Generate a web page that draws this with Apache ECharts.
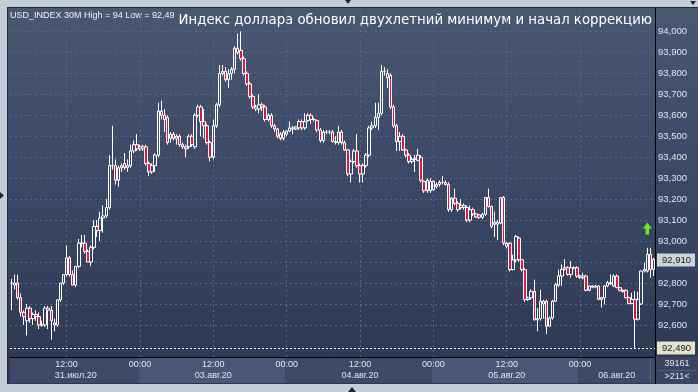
<!DOCTYPE html>
<html><head><meta charset="utf-8">
<script src="https://cdn.jsdelivr.net/npm/echarts@6/dist/echarts.min.js"></script>
<style>
html,body{margin:0;padding:0;background:#c5cdd9;overflow:hidden;}
#panel{position:absolute;left:7px;top:7px;width:691px;height:377px;background:linear-gradient(180deg,#4a5773 0%,#3a4764 50%,#2c3852 100%);border-top:1px solid #222b3b;border-left:1px solid #222b3b;box-sizing:border-box;}
#c{position:absolute;left:0;top:0;width:698px;height:392px;}
</style>
</head><body><div id="panel"></div><div id="c"></div>
<script>
// ---- data (30-minute candles, USD_INDEX) ----
const days      = ['31.июл.20','03.авг.20','04.авг.20','05.авг.20','06.авг.20'];
const dayFirst  = ['03:00','00:00','00:00','00:00','00:00'];
const dayLast   = ['23:30','23:30','23:30','23:30','12:00'];
const timeTicks = ['00:00','12:00'];
const yTicks    = [92.6,92.7,92.8,92.9,93.0,93.1,93.2,93.3,93.4,93.5,93.6,93.7,93.8,93.9,94.0];
const lowMark   = 92.49;
const lastPrice = 92.91;
const arrowValue = 93.06;

const opens = [
92.80,92.79,92.80,92.73,92.66,92.62,92.68,92.63,92.65,92.64,
92.60,92.60,92.68,92.67,92.61,92.60,92.72,92.80,92.84,92.92,
92.84,92.79,92.88,92.99,92.99,92.95,92.90,92.97,93.07,93.05,
93.11,93.12,93.16,93.36,93.36,93.29,93.35,93.37,93.35,93.36,
93.43,93.46,93.44,93.45,93.45,93.37,93.33,93.36,93.41,93.62,
93.60,93.59,93.49,93.51,93.49,93.50,93.46,93.45,93.45,93.50,
93.45,93.60,93.64,93.57,93.55,93.47,93.40,93.55,93.65,93.80,
93.81,93.77,93.80,93.82,93.92,93.91,93.87,93.80,93.75,93.69,
93.64,93.63,93.65,93.64,93.58,93.60,93.55,93.535,93.51,93.49,
93.51,93.525,93.54,93.535,93.54,93.57,93.54,93.575,93.60,93.58,
93.575,93.53,93.48,93.52,93.52,93.52,93.475,93.47,93.52,93.47,
93.435,93.32,93.38,93.43,93.36,93.32,93.36,93.41,93.54,93.55,
93.59,93.61,93.81,93.80,93.79,93.64,93.55,93.475,93.50,93.435,
93.41,93.38,93.39,93.385,93.40,93.285,93.24,93.24,93.245,93.27,
93.27,93.28,93.28,93.27,93.15,93.205,93.18,93.17,93.16,93.16,
93.10,93.15,93.13,93.125,93.113,93.128,93.208,93.165,93.08,93.09,
93.085,93.208,92.99,92.99,92.864,92.91,93.014,92.911,92.864,92.721,
92.729,92.76,92.625,92.63,92.70,92.713,92.594,92.633,92.713,92.79,
92.833,92.865,92.873,92.841,92.873,92.873,92.833,92.825,92.833,92.765,
92.786,92.78,92.786,92.722,92.73,92.786,92.795,92.786,92.833,92.778,
92.765,92.765,92.73,92.702,92.722,92.627,92.70,92.857,92.857,92.937,
92.865];
const closes = [
92.80,92.80,92.73,92.66,92.64,92.68,92.63,92.65,92.64,92.60,
92.60,92.68,92.67,92.62,92.60,92.72,92.80,92.84,92.92,92.84,
92.79,92.88,92.99,92.99,92.95,92.90,92.97,93.07,93.05,93.11,
93.12,93.16,93.36,93.36,93.29,93.35,93.36,93.35,93.36,93.43,
93.46,93.44,93.45,93.44,93.37,93.33,93.36,93.41,93.62,93.60,
93.58,93.47,93.51,93.49,93.50,93.46,93.45,93.44,93.50,93.46,
93.60,93.64,93.57,93.55,93.47,93.40,93.55,93.65,93.80,93.81,
93.77,93.80,93.82,93.92,93.90,93.87,93.80,93.75,93.69,93.64,
93.63,93.65,93.64,93.58,93.60,93.55,93.535,93.50,93.49,93.52,
93.525,93.54,93.535,93.545,93.57,93.54,93.57,93.60,93.58,93.58,
93.53,93.48,93.52,93.52,93.52,93.475,93.47,93.52,93.47,93.435,
93.32,93.38,93.43,93.36,93.32,93.36,93.41,93.54,93.55,93.59,
93.61,93.81,93.81,93.78,93.64,93.55,93.475,93.50,93.435,93.41,
93.38,93.39,93.395,93.41,93.29,93.24,93.29,93.285,93.285,93.26,
93.28,93.28,93.27,93.15,93.205,93.18,93.15,93.16,93.17,93.10,
93.15,93.13,93.115,93.113,93.128,93.208,93.165,93.07,93.09,93.08,
93.208,92.99,92.975,92.864,92.91,93.022,92.911,92.864,92.721,92.729,
92.76,92.625,92.63,92.713,92.713,92.594,92.633,92.713,92.792,92.835,
92.865,92.873,92.841,92.873,92.873,92.833,92.825,92.833,92.765,92.786,
92.78,92.786,92.722,92.73,92.786,92.802,92.802,92.833,92.778,92.765,
92.759,92.73,92.702,92.722,92.627,92.722,92.857,92.865,92.937,92.865,
92.913];
const lows = [
92.67,92.77,92.72,92.64,92.60,92.55,92.61,92.60,92.62,92.58,
92.59,92.59,92.58,92.53,92.57,92.59,92.71,92.79,92.83,92.83,
92.79,92.78,92.87,92.97,92.94,92.90,92.88,92.96,93.02,93.00,
93.04,93.11,93.15,93.34,93.27,93.26,93.33,93.34,93.33,93.35,
93.42,93.43,93.43,93.43,93.36,93.31,93.32,93.33,93.40,93.58,
93.52,93.46,93.47,93.48,93.46,93.45,93.44,93.40,93.44,93.45,
93.44,93.59,93.50,93.49,93.46,93.38,93.39,93.54,93.64,93.79,
93.76,93.73,93.77,93.80,93.89,93.86,93.79,93.74,93.68,93.63,
93.62,93.61,93.62,93.57,93.57,93.54,93.52,93.49,93.48,93.48,
93.50,93.52,93.51,93.53,93.53,93.53,93.53,93.57,93.56,93.57,
93.52,93.47,93.47,93.51,93.51,93.47,93.46,93.46,93.46,93.43,
93.31,93.28,93.37,93.35,93.28,93.28,93.35,93.40,93.53,93.54,
93.53,93.60,93.79,93.73,93.63,93.54,93.43,93.43,93.43,93.40,
93.37,93.37,93.33,93.38,93.28,93.23,93.23,93.23,93.24,93.25,
93.26,93.27,93.265,93.14,93.14,93.17,93.14,93.15,93.15,93.09,
93.09,93.12,93.11,93.105,93.105,93.12,93.16,93.06,93.02,93.006,
93.08,92.98,92.965,92.855,92.86,92.90,92.90,92.855,92.71,92.715,
92.72,92.62,92.57,92.62,92.63,92.557,92.59,92.625,92.71,92.78,
92.786,92.86,92.835,92.825,92.865,92.825,92.82,92.817,92.76,92.76,
92.775,92.775,92.718,92.683,92.698,92.78,92.79,92.78,92.775,92.76,
92.755,92.725,92.698,92.70,92.49,92.62,92.695,92.85,92.85,92.825,
92.833];
const highs = [
92.82,92.84,92.84,92.75,92.67,92.70,92.69,92.66,92.67,92.66,
92.62,92.69,92.69,92.69,92.63,92.72,92.80,92.84,92.98,92.93,
92.86,92.88,93.01,93.03,93.03,92.96,92.98,93.10,93.10,93.14,
93.17,93.20,93.41,93.55,93.39,93.36,93.37,93.42,93.39,93.46,
93.48,93.51,93.46,93.46,93.46,93.38,93.37,93.42,93.66,93.67,
93.63,93.60,93.52,93.52,93.51,93.51,93.47,93.46,93.51,93.51,
93.61,93.65,93.65,93.63,93.56,93.48,93.58,93.66,93.84,93.84,
93.83,93.82,93.83,93.93,93.99,94.00,93.88,93.81,93.76,93.70,
93.65,93.70,93.66,93.65,93.61,93.61,93.56,93.54,93.52,93.53,
93.53,93.57,93.55,93.55,93.58,93.58,93.61,93.61,93.61,93.59,
93.58,93.54,93.53,93.53,93.53,93.53,93.50,93.55,93.53,93.48,
93.44,93.39,93.44,93.51,93.37,93.37,93.42,93.55,93.57,93.66,
93.66,93.84,93.83,93.82,93.80,93.65,93.56,93.52,93.51,93.44,
93.42,93.40,93.41,93.44,93.41,93.29,93.30,93.30,93.29,93.28,
93.29,93.31,93.29,93.28,93.21,93.25,93.19,93.20,93.18,93.17,
93.17,93.16,93.135,93.13,93.135,93.21,93.25,93.17,93.14,93.10,
93.21,93.215,92.995,92.995,92.935,93.03,93.022,92.915,92.87,92.735,
92.77,92.816,92.68,92.768,92.72,92.72,92.64,92.72,92.80,92.864,
92.889,92.913,92.88,92.905,92.88,92.88,92.84,92.849,92.84,92.79,
92.79,92.79,92.79,92.735,92.79,92.81,92.841,92.841,92.841,92.78,
92.77,92.77,92.735,92.754,92.762,92.758,92.86,92.897,92.968,92.968,
92.92];

// ---- categories built from the day list ----
function slots(from, to){
  const out=[]; let [h,m]=from.split(':').map(Number);
  const [th,tm]=to.split(':').map(Number);
  while(h*60+m <= th*60+tm){ out.push(String(h).padStart(2,'0')+':'+String(m).padStart(2,'0')); m+=30; if(m>=60){m-=60;h++;} }
  return out;
}
const cats=[], dayStartIdx=[], dateLabelIdx=[];
days.forEach((d,k)=>{
  const s=slots(dayFirst[k],dayLast[k]);
  dayStartIdx.push(cats.length);
  dateLabelIdx.push(cats.length+Math.ceil((s.length-1)/2));
  s.forEach(t=>cats.push(d+' '+t));
});
const candles = opens.map((o,i)=>[o,closes[i],lows[i],highs[i]]);
const timeIdx = cats.map((c,i)=>timeTicks.includes(c.slice(-5))?i:-1).filter(i=>i>=0 && i<cats.length-1);
const fmt = v => v.toFixed(3).replace('.', ',');

const gridLine = {color:'#58668a',type:[2,3],width:1};
const labelColor = '#dfe6f2';
const F = '"Liberation Sans", Arial, sans-serif';

const option = {
  animation:false,
  backgroundColor:'transparent',
  textStyle:{fontFamily:F},
  grid:[
    {left:10, top:8, width:645, height:349},
    {left:10, top:357, width:645, height:26}
  ],
  xAxis:[
    {gridIndex:0,type:'category',data:cats,boundaryGap:true,
     axisLine:{show:true,lineStyle:{color:'#000',width:1}},axisTick:{show:false},axisLabel:{show:false},splitLine:{show:false}},
    {gridIndex:1,type:'category',data:cats,boundaryGap:true,position:'top',
     axisLine:{show:false},axisTick:{show:false},
     axisLabel:{inside:true,margin:3,color:labelColor,fontSize:9,fontFamily:F,
       interval:(i)=>timeIdx.includes(i), formatter:v=>v.slice(-5)},
     splitLine:{show:false},
     splitArea:{show:true,interval:(i)=>i===0||dayStartIdx.includes(i),
       areaStyle:{color:['#3d4966','#4a5676']}}},
    {gridIndex:1,type:'category',data:cats,boundaryGap:true,position:'top',
     axisLine:{show:false},axisTick:{show:false},
     axisLabel:{inside:true,margin:14,color:labelColor,fontSize:9,fontFamily:F,
       interval:(i)=>dateLabelIdx.includes(i), formatter:v=>v.split(' ')[0]},
     splitLine:{show:false}}
  ],
  yAxis:[
    {gridIndex:0,type:'value',position:'right',min:92.447,max:94.112,scale:true,
     axisLine:{show:true,lineStyle:{color:'#000',width:1}},axisTick:{show:false},splitLine:{show:false},
     axisLabel:{customValues:yTicks,formatter:fmt,color:labelColor,fontSize:9.5,margin:3,fontFamily:F}},
    {gridIndex:1,type:'value',show:false}
  ],
  series:[
    {type:'line',xAxisIndex:0,yAxisIndex:0,data:[],silent:true,
     markLine:{silent:true,symbol:['none','none'],z:1,animation:false,label:{show:false},
       lineStyle:gridLine,
       data:[...yTicks.map(v=>({yAxis:v})), ...timeIdx.map(i=>({xAxis:cats[i]}))]}},
    {type:'candlestick',xAxisIndex:0,yAxisIndex:0,data:candles,barWidth:3,z:3,
     itemStyle:{color:'rgba(0,0,0,0)',color0:'#e0163e',borderColor:'#ffffff',borderColor0:'#ffffff',borderWidth:1},
     markLine:{silent:true,symbol:['none','none'],z:6,animation:false,
       data:[
         {yAxis:lowMark,lineStyle:{color:'#ffffff',type:[2,2],width:1},
          label:{show:true,position:'end',distance:2,formatter:fmt(lowMark),color:'#1a1a1a',backgroundColor:'#e4e4cc',padding:[2,4,1,5],fontSize:9.5,fontFamily:F}},
         {yAxis:lastPrice,lineStyle:{color:'rgba(0,0,0,0)',width:1},
          label:{show:true,position:'end',distance:2,formatter:fmt(lastPrice),color:'#1a1a1a',backgroundColor:'#cfd2d6',padding:[2,4,1,5],fontSize:9.5,fontFamily:F,opacity:1}}
       ]},
     markPoint:{silent:true,animation:false,label:{show:false},
       data:[{coord:[cats[208],arrowValue],symbol:'path://M5,0 L10,6 L7,6 L7,12 L3,12 L3,6 L0,6 Z',symbolSize:[9,12],itemStyle:{color:'#66ee1a'}}]}}
  ],
  graphic:[
    {type:'text',x:10,y:16,style:{text:'USD_INDEX 30M High = 94 Low = 92,49',fill:'#eef2fa',font:'9px '+F,verticalAlign:'middle'}},
    {type:'text',x:652,y:21,style:{text:'Индекс доллара обновил двухлетний минимум и начал коррекцию',fill:'#ffffff',font:'13.3px "DejaVu Sans"',textAlign:'right',verticalAlign:'middle'}},
    {type:'rect',z:10,shape:{x:655,y:357,width:43,height:27},style:{fill:'#3a4661'}},
    {type:'line',z:11,shape:{x1:655.5,y1:357,x2:655.5,y2:384},style:{stroke:'#000',lineWidth:1}},
    {type:'line',z:11,shape:{x1:650.5,y1:359,x2:650.5,y2:383},style:{stroke:'#56627c',lineWidth:1}},
    {type:'line',z:11,shape:{x1:658,y1:370.5,x2:696,y2:370.5},style:{stroke:'#56627c',lineWidth:1}},
    {type:'text',z:12,x:677,y:364,style:{text:'39161',fill:labelColor,font:'9px '+F,textAlign:'center',verticalAlign:'middle'}},
    {type:'text',z:12,x:677,y:377,style:{text:'>211<',fill:labelColor,font:'9px '+F,textAlign:'center',verticalAlign:'middle'}},
    {type:'polygon',shape:{points:[[345,0],[351,0],[348,4]]},style:{fill:'#1e2532'}},
    {type:'polygon',shape:{points:[[690,1],[696,1],[693,5]]},style:{fill:'#1e2532'}},
    {type:'polygon',shape:{points:[[0,192],[0,199],[4,195.5]]},style:{fill:'#1e2532'}},
    {type:'polygon',shape:{points:[[348,392],[356,392],[352,387]]},style:{fill:'#1e2532'}}
  ]
};
const chart = echarts.init(document.getElementById('c'),null,{renderer:'canvas'});
chart.setOption(option);
</script></body></html>
